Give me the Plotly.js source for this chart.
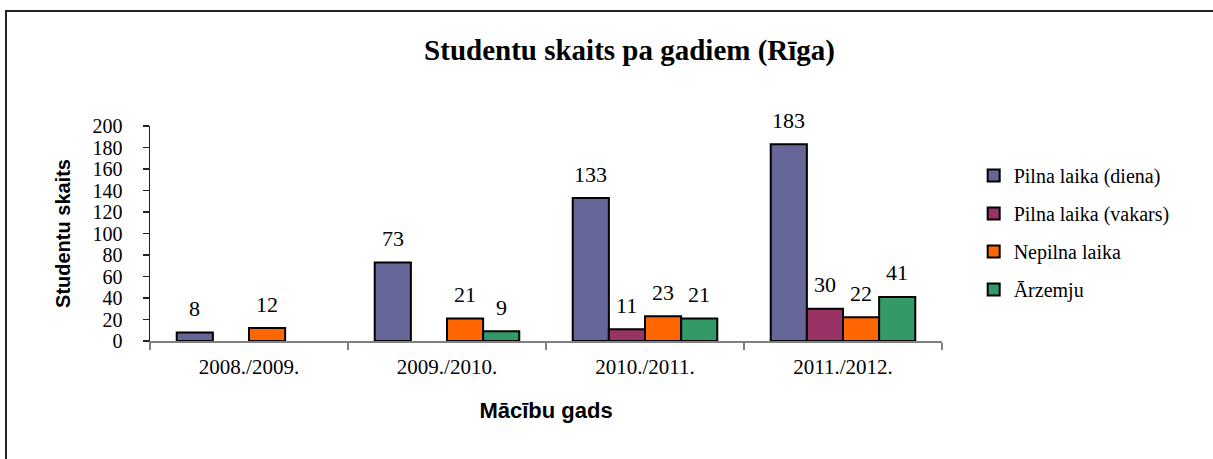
<!DOCTYPE html>
<html>
<head>
<meta charset="utf-8">
<script src="https://cdn.plot.ly/plotly-3.0.1.min.js"></script>
<style>
  html, body { margin: 0; padding: 0; background: #fff; }
  #wrap { position: relative; width: 1213px; height: 459px; overflow: hidden; }
  #chart { position: absolute; left: 0; top: 0; width: 1213px; height: 459px; }
  #frame { position: absolute; left: 5px; top: 10px; width: 1300px; height: 600px;
           border-top: 2px solid #222; border-left: 2px solid #222; pointer-events: none; }
</style>
</head>
<body>
<div id="wrap">
  <div id="chart"></div>
  <div id="frame"></div>
</div>
<script>
const categories = ['2008./2009.', '2009./2010.', '2010./2011.', '2011./2012.'];
const seriesNames = ['Pilna laika (diena)', 'Pilna laika (vakars)', 'Nepilna laika', 'Ārzemju'];
const pilnaDiena  = [8, 73, 133, 183];
const pilnaVakars = [null, null, 11, 30];
const nepilna     = [12, 21, 23, 22];
const arzemju     = [null, 9, 21, 41];
const colors = ['#666699', '#993366', '#FF6600', '#339966'];
const yTicks = [0, 20, 40, 60, 80, 100, 120, 140, 160, 180, 200];

const serif = '"Liberation Serif", "Times New Roman", serif';
const sans = '"Liberation Sans", Arial, sans-serif';

const W = 1213, H = 459;
const margin = { l: 150, r: 271, t: 126, b: 118 };
const bargap = 0.27;

const allSeries = [pilnaDiena, pilnaVakars, nepilna, arzemju];
const traces = allSeries.map((vals, i) => ({
  type: 'bar',
  name: seriesNames[i],
  x: categories,
  y: vals,
  legendgroup: 'g' + i,
  marker: { color: colors[i], line: { color: '#000', width: 2 } },
  hoverinfo: 'x+y+name'
}));

// value labels placed above each bar via the axes' data coordinates
const plotW = W - margin.l - margin.r;
const slotPx = plotW / categories.length * (1 - bargap) / allSeries.length;
const annotations = [];
allSeries.forEach((vals, i) => {
  vals.forEach((v, j) => {
    if (v == null) return;
    annotations.push({
      x: categories[j], y: v, xref: 'x', yref: 'y',
      xshift: (i - (allSeries.length - 1) / 2) * slotPx,
      yshift: 24, yanchor: 'middle', xanchor: 'center',
      showarrow: false, text: String(v),
      font: { family: serif, size: 22, color: '#000' }
    });
  });
});

const layout = {
  width: W, height: H,
  margin: margin,
  paper_bgcolor: '#fff', plot_bgcolor: '#fff',
  barmode: 'group',
  bargap: bargap,
  bargroupgap: 0,
  title: {
    text: '<b>Studentu skaits pa gadiem (Rīga)</b>',
    font: { family: serif, size: 29, color: '#000' },
    x: 0.519, xanchor: 'center', xref: 'container',
    y: 0.891, yanchor: 'middle', yref: 'container'
  },
  xaxis: {
    type: 'category',
    showline: true, linecolor: '#808080', linewidth: 1.5,
    ticks: 'outside', tickson: 'boundaries', ticklen: 7, tickcolor: '#808080', tickwidth: 1.5,
    tickfont: { family: serif, size: 21, color: '#000' },
    ticklabelstandoff: 6,
    showgrid: false, zeroline: false,
    title: { text: '<b>Mācību gads</b>', font: { family: sans, size: 22, color: '#000' }, standoff: 25 }
  },
  yaxis: {
    range: [0, 200], tickvals: yTicks, ticktext: yTicks.map(String),
    showline: true, linecolor: '#222', linewidth: 1.5,
    ticks: 'outside', ticklen: 6, tickcolor: '#222', tickwidth: 1.5,
    tickfont: { family: serif, size: 20, color: '#000' },
    ticklabelstandoff: 16,
    showgrid: false, zeroline: false,
    title: { text: '<b>Studentu skaits</b>', font: { family: sans, size: 20, color: '#000' }, standoff: 16 }
  },
  legend: {
    x: 1.04, xanchor: 'left', y: 0.86, yanchor: 'top',
    font: { family: serif, size: 20, color: '#000' },
    tracegroupgap: 9, traceorder: 'grouped',
    bgcolor: 'rgba(0,0,0,0)'
  },
  annotations: annotations,
  showlegend: true
};

Plotly.newPlot('chart', traces, layout, { displayModeBar: false, staticPlot: true });
</script>
</body>
</html>
